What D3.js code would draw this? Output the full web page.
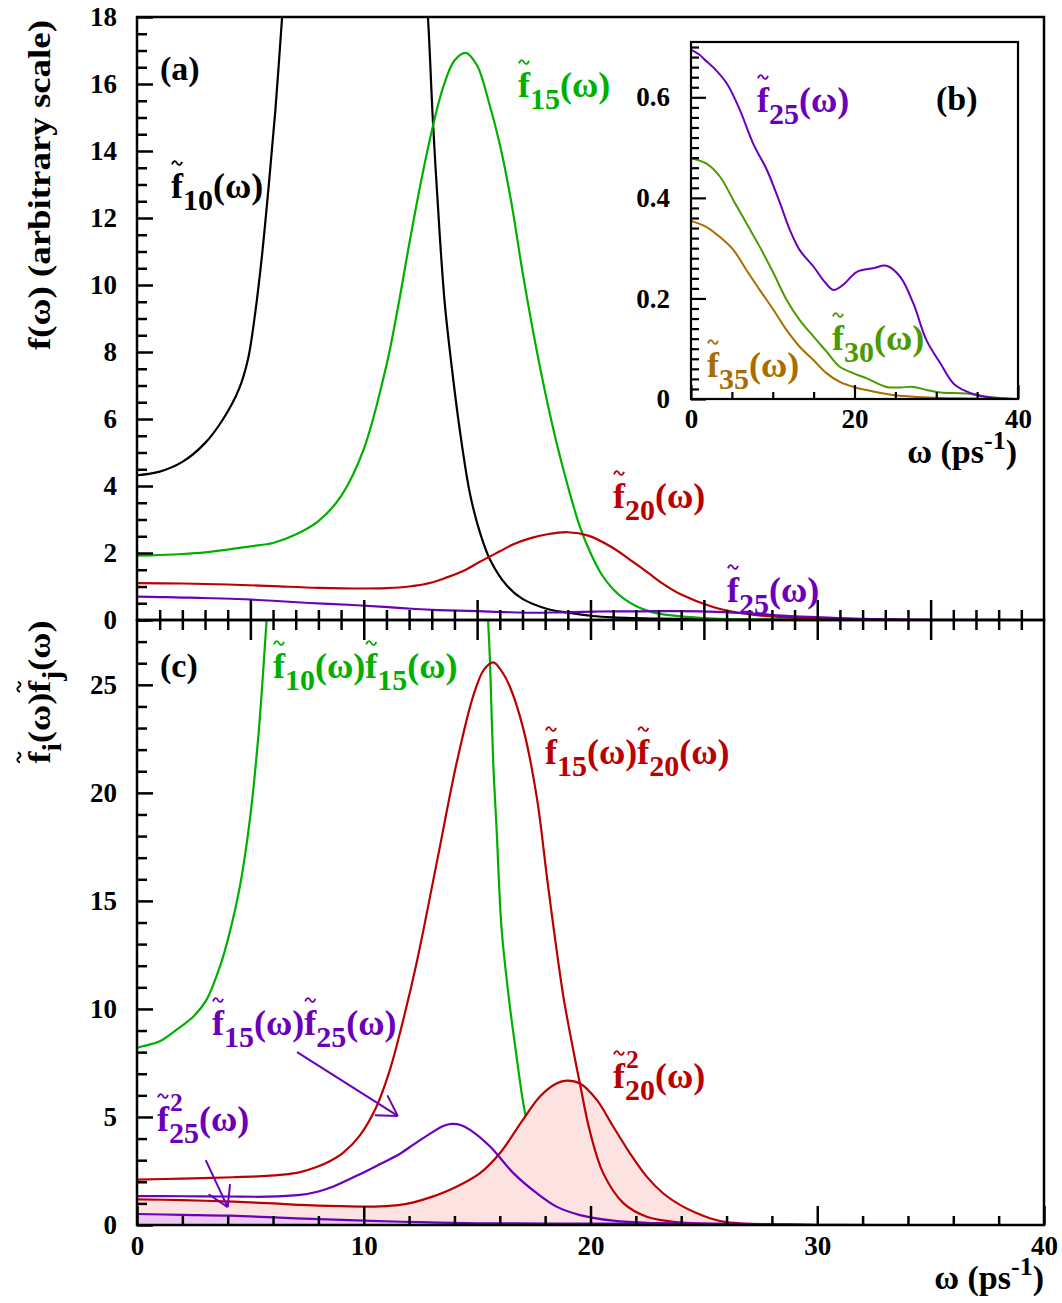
<!DOCTYPE html>
<html>
<head>
<meta charset="utf-8">
<script src="https://cdn.jsdelivr.net/npm/d3@7"></script>
<style>
  body { margin: 0; background: #fff; }
  svg { display: block; }
  text { font-family: "Liberation Serif", "Times New Roman", serif; font-weight: bold; }
</style>
</head>
<body>
<svg id="fig" width="1062" height="1303"></svg>
<script>
// ---------- panel (a): single-mode spectra f̃_n(ω) ----------
const f10W = [0, 1, 2, 3, 3.8, 4.5, 4.9, 5.2, 5.5, 5.8, 6.1, 6.4, 6.6, 6.9, 9.7, 12.6, 12.83, 13.05, 13.36, 13.58, 13.89, 14.24, 14.69, 15.13, 15.57, 16.32, 17.0, 18.1, 19.0, 20.1, 21, 23, 26, 30, 40];
const f10V = [4.32, 4.43, 4.72, 5.28, 6.0, 6.9, 7.8, 9.1, 10.8, 12.9, 15.2, 18.0, 19.8, 22, 40, 20, 18.0, 14.9, 11.4, 9.4, 7.5, 5.65, 3.75, 2.6, 1.8, 1.02, 0.63, 0.33, 0.22, 0.12, 0.08, 0.04, 0.015, 0, 0];

const f15W = [0, 1, 2, 3, 4, 5, 6, 7, 8, 9, 10, 11, 11.5, 12, 12.5, 13, 13.5, 14, 14.5, 15, 15.5, 16, 16.5, 17, 17.5, 18, 18.5, 19, 19.5, 20, 20.5, 21, 21.5, 22, 22.5, 23, 24, 25, 26, 28, 30, 40];
const f15V = [1.92, 1.94, 1.97, 2.02, 2.1, 2.2, 2.3, 2.55, 2.95, 3.7, 5.1, 7.6, 9.3, 11.2, 13.0, 14.6, 15.9, 16.7, 16.93, 16.55, 15.5, 14.2, 12.5, 10.4, 8.5, 6.8, 5.3, 4.0, 2.85, 2.0, 1.35, 0.92, 0.62, 0.42, 0.28, 0.19, 0.11, 0.06, 0.03, 0.01, 0, 0];

const f20W = [0, 2, 4, 6, 8, 10, 11, 12, 13, 13.7, 14.5, 15.1, 16, 16.6, 17.4, 18.1, 19, 19.9, 21, 21.7, 22.5, 23.2, 24, 25.4, 26.9, 28.4, 30, 32, 35, 40];
const f20V = [1.1, 1.09, 1.06, 1.01, 0.96, 0.94, 0.95, 1.0, 1.12, 1.28, 1.5, 1.73, 2.05, 2.26, 2.45, 2.56, 2.62, 2.52, 2.15, 1.82, 1.43, 1.08, 0.76, 0.39, 0.18, 0.09, 0.04, 0.02, 0, 0];

const f25W = [0, 1, 2, 2.7, 4.4, 6, 7.6, 9.3, 10.9, 12.1, 13.3, 15, 16.2, 17.4, 18.6, 20.3, 22.3, 23.9, 25.6, 27.2, 28.8, 30.5, 32.1, 33.7, 35.8, 38, 40];
const f25V = [0.695, 0.685, 0.67, 0.66, 0.627, 0.574, 0.508, 0.455, 0.389, 0.336, 0.296, 0.263, 0.236, 0.217, 0.227, 0.253, 0.26, 0.265, 0.243, 0.19, 0.117, 0.071, 0.031, 0.015, 0.005, 0.001, 0];

// ---------- panel (b): higher modes ----------
const f30W = [0, 1.9, 3.55, 5.2, 6.8, 8.4, 10.1, 11.7, 13.3, 15, 16.6, 18.2, 19.9, 21.5, 23.9, 25.6, 27.2, 28.8, 30.5, 33.7, 35.8, 38, 40];
const f30V = [0.479, 0.468, 0.442, 0.395, 0.349, 0.303, 0.25, 0.197, 0.157, 0.124, 0.094, 0.064, 0.051, 0.041, 0.024, 0.023, 0.024, 0.018, 0.013, 0.011, 0.005, 0.002, 0];

const f35W = [0, 1.9, 3.55, 5.2, 6.8, 8.4, 10.1, 11.7, 13.3, 15, 16.6, 18.2, 19.9, 22.3, 24.7, 29, 34, 40];
const f35V = [0.354, 0.342, 0.322, 0.296, 0.256, 0.217, 0.177, 0.137, 0.104, 0.077, 0.051, 0.034, 0.024, 0.015, 0.008, 0.003, 0.001, 0];

// ---------- panel (c): products f̃_i(ω) f̃_j(ω) ----------
const f10f15W = [0, 0.25, 1, 1.75, 2.5, 3.07, 3.7, 4.03, 4.54, 4.98, 5.35, 5.57, 5.72, 5.95, 10.5, 15.3, 15.5, 15.57, 15.71, 15.86, 16.08, 16.4, 16.7, 17.11, 17.5, 18, 19, 20, 21, 23, 26, 40];
const f10f15V = [8.2, 8.27, 8.5, 9.04, 9.66, 10.43, 12.1, 13.3, 15.68, 18.78, 22.6, 25.7, 28.05, 31, 60, 31, 27.6, 26.0, 21.4, 18.3, 13.7, 10.5, 8.1, 5.2, 3.6, 2.3, 1.0, 0.45, 0.2, 0.05, 0, 0];

const f15f20W = [0, 2, 4.25, 5.5, 6.45, 7.2, 7.92, 8.5, 9.1, 9.83, 10.57, 11.16, 11.6, 12.33, 13.22, 14.1, 14.83, 15.3, 15.71, 16.1, 16.45, 17.04, 17.63, 18.14, 18.8, 19.24, 19.54, 19.98, 20.56, 21.45, 22.48, 23.65, 26, 30, 40];
const f15f20V = [2.1, 2.15, 2.21, 2.26, 2.33, 2.45, 2.68, 2.95, 3.35, 4.15, 5.5, 7.2, 8.9, 12.13, 16.77, 21.4, 24.49, 25.7, 26.04, 25.6, 24.9, 22.95, 19.8, 15.6, 10.6, 8.1, 6.5, 4.3, 2.4, 1.01, 0.38, 0.15, 0.03, 0, 0];

const f20sqW = [0, 2, 4.25, 6, 7.19, 9, 10.13, 10.72, 11.6, 12.19, 13.0, 13.95, 15.13, 16.0, 17.04, 17.77, 18.5, 18.95, 19.54, 20.27, 21.0, 21.74, 22.48, 23.2, 23.95, 24.7, 25.3, 26, 27, 28, 30, 40];
const f20sqV = [1.19, 1.15, 1.08, 1.0, 0.93, 0.87, 0.85, 0.86, 0.93, 1.05, 1.3, 1.7, 2.4, 3.32, 4.9, 5.95, 6.55, 6.68, 6.55, 5.8, 4.56, 3.32, 2.24, 1.47, 0.93, 0.54, 0.3, 0.13, 0.05, 0.02, 0, 0];

const f15f25W = [0, 2, 4, 5.72, 7.19, 8.0, 8.66, 9.83, 10.72, 11.6, 12.19, 13.07, 13.5, 13.88, 14.3, 14.69, 15.57, 16.6, 17.63, 18.5, 19.54, 21.0, 23, 25, 28, 30, 40];
const f15f25V = [1.34, 1.33, 1.32, 1.31, 1.39, 1.55, 1.78, 2.35, 2.82, 3.3, 3.72, 4.32, 4.58, 4.68, 4.62, 4.4, 3.63, 2.4, 1.47, 0.85, 0.46, 0.2, 0.08, 0.03, 0.01, 0, 0];

const f25sqW = [0, 2, 4.1, 7.04, 10, 12.5, 15, 18, 21, 24, 27, 30, 33, 40];
const f25sqV = [0.51, 0.47, 0.43, 0.31, 0.2, 0.13, 0.08, 0.07, 0.07, 0.075, 0.05, 0.01, 0, 0];

// annotation arrows (ω, value) : tail -> head
const arrowF15F25 = [[7.06, 8.0], [11.5, 5.05]];
const arrowF25sq = [[3.03, 3.0], [4.0, 0.83]];

// axis ticks
const topYTicks = [0, 2, 4, 6, 8, 10, 12, 14, 16, 18];
const botYTicks = [0, 5, 10, 15, 20, 25];
const botXTicks = [0, 10, 20, 30, 40];
const insetYTicks = [0, 0.2, 0.4, 0.6];
const insetXTicks = [0, 20, 40];

// colours
const C = {
  black: "#000000", green: "#00b000", red: "#bb0000", purple: "#6a00bb",
  olive: "#4a9a00", brown: "#a86c00", pink: "#fde2e2", lilac: "#ecc8f6"
};

const zip = (w, v) => w.map((x, i) => [x, v[i]]);
const smooth = d3.curveCatmullRom.alpha(0.5);

const svg = d3.select("#fig");

// ---------- scales ----------
const x = d3.scaleLinear().domain([0, 40]).range([137, 1044]);
const yA = d3.scaleLinear().domain([0, 18]).range([620, 17]);
const yC = d3.scaleLinear().domain([0, 28]).range([1225, 620]);
const xB = d3.scaleLinear().domain([0, 40]).range([691, 1018]);
const yB = d3.scaleLinear().domain([0, 0.71]).range([399, 42]);

const defs = svg.append("defs");
defs.append("clipPath").attr("id", "clipA").append("rect")
  .attr("x", 137).attr("y", 17).attr("width", 907).attr("height", 603);
defs.append("clipPath").attr("id", "clipC").append("rect")
  .attr("x", 137).attr("y", 620).attr("width", 907).attr("height", 605);
defs.append("clipPath").attr("id", "clipB").append("rect")
  .attr("x", 691).attr("y", 42).attr("width", 327).attr("height", 357);

function curve(g, data, xs, ys, color, w = 2.2) {
  g.append("path").datum(data)
    .attr("fill", "none").attr("stroke", color).attr("stroke-width", w)
    .attr("stroke-linejoin", "round")
    .attr("d", d3.line().x(d => xs(d[0])).y(d => ys(Math.max(d[1], 0))).curve(smooth));
}
function area(g, data, xs, ys, color) {
  g.append("path").datum(data).attr("fill", color).attr("stroke", "none")
    .attr("d", d3.area().x(d => xs(d[0])).y0(ys(0)).y1(d => ys(d[1])).curve(smooth));
}

function tilde(g, cx, cy, w, h, color) {
  g.append("path")
    .attr("d", `M${cx - w / 2},${cy + h * 0.35} C${cx - w * 0.3},${cy - h} ${cx - w * 0.1},${cy - h * 0.5} ${cx},${cy} S${cx + w * 0.3},${cy + h} ${cx + w / 2},${cy - h * 0.35}`)
    .attr("fill", "none").attr("stroke", color).attr("stroke-width", 1.8);
}

// rich label: parts = [{f:true, sub:"15", sup:"2"}, {t:"(ω)"}, {t:"-1", raise:.4, size:..}]
function label(g, x0, y0, parts, color, S = 36, s = 30) {
  const t = g.append("text").attr("x", x0).attr("y", y0).attr("fill", color)
    .style("font-size", S + "px");
  let idx = 0, shift = 0;
  const fIdx = [], sups = [];
  const add = (txt, target, size) => {
    const ts = t.append("tspan").text(txt);
    if (target !== shift) { ts.attr("dy", target - shift); shift = target; }
    if (size) ts.style("font-size", size + "px");
    idx += txt.length;
  };
  parts.forEach(p => {
    if (p.f) {
      fIdx.push(idx);
      if (p.sup) sups.push({ i: idx, txt: p.sup });
      add("f", 0);
      if (p.sub) add(p.sub, 0.33 * S, s);
    } else {
      add(p.t, p.raise ? -p.raise * S : 0, p.size);
    }
  });
  const node = t.node();
  fIdx.forEach(i => {
    const e = node.getExtentOfChar(i);
    tilde(g, e.x + e.width * 0.5, y0 - 0.97 * S, S * 0.28, S * 0.1, color);
  });
  sups.forEach(o => {
    const e = node.getExtentOfChar(o.i);
    g.append("text").attr("x", e.x + e.width + 1).attr("y", y0 - 0.56 * S)
      .attr("fill", color).style("font-size", (s * 0.85) + "px").text(o.txt);
  });
  return t;
}

function arrow(g, pts, color) {
  const [a, b] = pts.map(p => [x(p[0]), yC(p[1])]);
  g.append("line").attr("x1", a[0]).attr("y1", a[1]).attr("x2", b[0]).attr("y2", b[1])
    .attr("stroke", color).attr("stroke-width", 2);
  const ang = Math.atan2(a[1] - b[1], a[0] - b[0]);
  [-0.54, 0.54].forEach(da => {
    g.append("line").attr("x1", b[0]).attr("y1", b[1])
      .attr("x2", b[0] + 23 * Math.cos(ang + da)).attr("y2", b[1] + 23 * Math.sin(ang + da))
      .attr("stroke", color).attr("stroke-width", 2);
  });
}

// ================= panel (a) =================
const gA = svg.append("g").attr("clip-path", "url(#clipA)");
curve(gA, zip(f10W, f10V), x, yA, C.black);
curve(gA, zip(f15W, f15V), x, yA, C.green);
curve(gA, zip(f20W, f20V), x, yA, C.red);
curve(gA, zip(f25W, f25V), x, yA, C.purple);

// ================= panel (c) =================
const gC = svg.append("g").attr("clip-path", "url(#clipC)");
curve(gC, zip(f10f15W, f10f15V), x, yC, C.green);
area(gC, zip(f20sqW, f20sqV), x, yC, C.pink);
area(gC, zip(f25sqW, f25sqV), x, yC, C.lilac);
curve(gC, zip(f15f20W, f15f20V), x, yC, C.red);
curve(gC, zip(f20sqW, f20sqV), x, yC, C.red);
curve(gC, zip(f15f25W, f15f25V), x, yC, C.purple);
curve(gC, zip(f25sqW, f25sqV), x, yC, C.purple);

// ---------- axes of main panels ----------
const axG = svg.append("g");
function styleAxis(sel, w = 2.5) {
  sel.select(".domain").remove();
  sel.selectAll("line").attr("stroke", "#000").attr("stroke-width", w);
  sel.selectAll("text").attr("fill", "#000").style("font-size", "27px")
    .style("font-family", "'Liberation Serif','Times New Roman',serif").style("font-weight", "bold");
}
const minor = (lo, hi, st, majorStep) =>
  d3.range(lo, hi + st / 2, st).filter(v => Math.abs(v / majorStep - Math.round(v / majorStep)) > 1e-6);

// left axis, panel (a)
axG.append("g").attr("transform", "translate(137,0)")
  .call(d3.axisLeft(yA).tickValues(topYTicks).tickSizeInner(-16).tickSizeOuter(0).tickPadding(20).tickFormat(d3.format("d")))
  .call(styleAxis);
axG.append("g").attr("transform", "translate(137,0)")
  .call(d3.axisLeft(yA).tickValues(minor(0, 18, 0.5, 2)).tickSizeInner(-10).tickSizeOuter(0).tickFormat(""))
  .call(styleAxis);

// left axis, panel (c)
axG.append("g").attr("transform", "translate(137,0)")
  .call(d3.axisLeft(yC).tickValues(botYTicks).tickSizeInner(-16).tickSizeOuter(0).tickPadding(20).tickFormat(d3.format("d")))
  .call(styleAxis);
axG.append("g").attr("transform", "translate(137,0)")
  .call(d3.axisLeft(yC).tickValues(minor(0, 28, 1, 5)).tickSizeInner(-10).tickSizeOuter(0).tickFormat(""))
  .call(styleAxis);

// shared ω axis between (a) and (c): ticks on both sides
const midMajor = axG.append("g").attr("transform", "translate(0,620)")
  .call(d3.axisBottom(x).tickValues(d3.range(5, 40, 5)).tickSizeOuter(0).tickFormat(""))
  .call(styleAxis);
midMajor.selectAll("line").attr("y1", -20).attr("y2", 20);
const midMinor = axG.append("g").attr("transform", "translate(0,620)")
  .call(d3.axisBottom(x).tickValues(minor(0, 40, 1, 5).filter(v => v > 0 && v < 40)).tickSizeOuter(0).tickFormat(""))
  .call(styleAxis);
midMinor.selectAll("line").attr("y1", -10).attr("y2", 10);

// bottom ω axis of panel (c)
axG.append("g").attr("transform", "translate(0,1225)")
  .call(d3.axisBottom(x).tickValues(botXTicks).tickSizeInner(-19).tickSizeOuter(0).tickPadding(11).tickFormat(d3.format("d")))
  .call(styleAxis);
axG.append("g").attr("transform", "translate(0,1225)")
  .call(d3.axisBottom(x).tickValues(minor(0, 40, 2, 10)).tickSizeInner(-9).tickSizeOuter(0).tickFormat(""))
  .call(styleAxis);

// frames
axG.append("rect").attr("x", 137).attr("y", 17).attr("width", 907).attr("height", 603)
  .attr("fill", "none").attr("stroke", "#000").attr("stroke-width", 2.5);
axG.append("rect").attr("x", 137).attr("y", 620).attr("width", 907).attr("height", 605)
  .attr("fill", "none").attr("stroke", "#000").attr("stroke-width", 2.5);

// ================= inset (b) =================
const gBbg = svg.append("g");
gBbg.append("rect").attr("x", 691).attr("y", 42).attr("width", 327).attr("height", 357).attr("fill", "#fff");
const gB = svg.append("g").attr("clip-path", "url(#clipB)");
curve(gB, zip(f35W, f35V), xB, yB, C.brown, 2);
curve(gB, zip(f30W, f30V), xB, yB, C.olive, 2);
curve(gB, zip(f25W, f25V), xB, yB, C.purple, 2);

const bAx = svg.append("g");
bAx.append("g").attr("transform", "translate(691,0)")
  .call(d3.axisLeft(yB).tickValues(insetYTicks).tickSizeInner(-15).tickSizeOuter(0).tickPadding(21).tickFormat(d => d === 0 ? "0" : d3.format(".1f")(d)))
  .call(s => styleAxis(s, 2.2));
bAx.append("g").attr("transform", "translate(691,0)")
  .call(d3.axisLeft(yB).tickValues(minor(0, 0.70, 0.02, 0.2).filter(v => v > 0)).tickSizeInner(-8).tickSizeOuter(0).tickFormat(""))
  .call(s => styleAxis(s, 2.2));
bAx.append("g").attr("transform", "translate(0,399)")
  .call(d3.axisBottom(xB).tickValues(insetXTicks).tickSizeInner(-14).tickSizeOuter(0).tickPadding(10).tickFormat(d3.format("d")))
  .call(s => styleAxis(s, 2.2));
bAx.append("g").attr("transform", "translate(0,399)")
  .call(d3.axisBottom(xB).tickValues(minor(0, 40, 5, 20)).tickSizeInner(-7).tickSizeOuter(0).tickFormat(""))
  .call(s => styleAxis(s, 2.2));
bAx.append("rect").attr("x", 691).attr("y", 42).attr("width", 327).attr("height", 357)
  .attr("fill", "none").attr("stroke", "#000").attr("stroke-width", 2.2);

// ================= annotations =================
const lab = svg.append("g");
const fw = (sub, sup) => ({ f: true, sub, sup });
const W = { t: "(ω)" };

// panel letters
lab.append("text").attr("x", 160).attr("y", 80).style("font-size", "34px").text("(a)");
lab.append("text").attr("x", 936).attr("y", 110).style("font-size", "34px").text("(b)");
lab.append("text").attr("x", 160).attr("y", 677).style("font-size", "34px").text("(c)");

// curve names, panel (a)
label(lab, 171, 198, [fw("10"), W], C.black);
label(lab, 518, 97, [fw("15"), W], C.green);
label(lab, 613, 508, [fw("20"), W], C.red);
label(lab, 727, 602, [fw("25"), W], C.purple);

// inset names
label(lab, 757, 112, [fw("25"), W], C.purple);
label(lab, 832, 350, [fw("30"), W], C.olive);
label(lab, 707, 377, [fw("35"), W], C.brown);

// panel (c) names
label(lab, 273, 678, [fw("10"), W, fw("15"), W], C.green);
label(lab, 545, 764, [fw("15"), W, fw("20"), W], C.red);
label(lab, 212, 1035, [fw("15"), W, fw("25"), W], C.purple);
label(lab, 157, 1131, [fw("25", "2"), W], C.purple);
label(lab, 613, 1088, [fw("20", "2"), W], C.red);

arrow(lab, arrowF15F25, C.purple);
arrow(lab, arrowF25sq, C.purple);

// ω axis titles
label(lab, 1044, 1289, [{ t: "ω (ps" }, { t: "-1", raise: 0.42, size: 26 }, { t: ")" }], "#000", 34).attr("text-anchor", "end");
label(lab, 1017, 463, [{ t: "ω (ps" }, { t: "-1", raise: 0.42, size: 26 }, { t: ")" }], "#000", 34).attr("text-anchor", "end");

// vertical titles, stretched along their length
function vTitle(cx, cy, len, parts, S, s) {
  const g = lab.append("g");
  const t = label(g, 0, 0, parts, "#000", S, s);
  const bb = t.node().getBBox();
  const k = len / bb.width;
  g.attr("transform", `translate(${cx},${cy}) rotate(-90) scale(${k},1) translate(${-bb.x - bb.width / 2},0)`);
}
vTitle(50, 185, 330, [{ t: "f(ω) (arbitrary scale)" }], 32, 26);
vTitle(50, 692, 143, [fw("i"), W, fw("j"), W], 32, 27);
</script>
</body>
</html>
